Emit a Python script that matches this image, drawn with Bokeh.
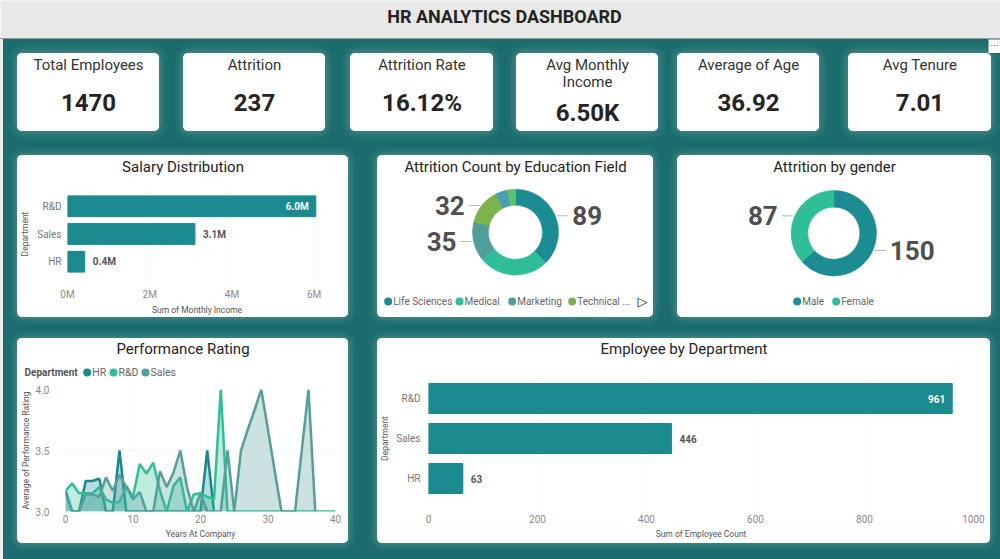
import math
from bokeh.plotting import figure
from bokeh.layouts import row, column
from bokeh.models import (Spacer, Range1d, FactorRange, ColumnDataSource,
                          FixedTicker, CustomJSTickFormatter, NumeralTickFormatter)
from bokeh.core.properties import value, field
from bokeh.embed import file_html
from bokeh.resources import INLINE

FONT = "Roboto"
PAGE_BG = "#1a6d6c"
INK = "#252423"
LABEL_GREY = "#555555"
TICK_GREY = "#8a8a8a"
BAR_COLOR = "#1c8b8f"

# ---------------- headline figures ----------------
total_employees = 1470
attrition_count = 237
avg_monthly_income = 6502.93
avg_age = 36.92
avg_tenure = 7.01

kpi_titles = ["Total Employees", "Attrition", "Attrition Rate",
              "Avg Monthly Income", "Average of Age", "Avg Tenure"]
kpi_values = [f"{total_employees}",
              f"{attrition_count}",
              f"{attrition_count / total_employees * 100:.2f}%",
              f"{avg_monthly_income / 1000:.2f}K",
              f"{avg_age:.2f}",
              f"{avg_tenure:.2f}"]

# ---------------- department totals ----------------
departments = ["R&D", "Sales", "HR"]
monthly_income = [6.04e6, 3.10e6, 0.42e6]
employee_count = [961, 446, 63]

# ---------------- attrition splits ----------------
edu_fields = ["Life Sciences", "Medical", "Marketing", "Technical Degree",
              "Other", "Human Resources"]
edu_attrition = [89, 63, 35, 32, 11, 7]
edu_labelled = [True, False, True, True, False, False]
edu_colors = ["#1b8c92", "#2fbe98", "#4f9e9b", "#7db34c", "#4a9db0", "#5cc26c"]

genders = ["Male", "Female"]
gender_attrition = [150, 87]
gender_colors = ["#1b8c92", "#2fbe98"]

# ---------------- average performance rating by tenure ----------------
perf_departments = ["HR", "R&D", "Sales"]
perf_colors = ["#178a8f", "#2ebf98", "#569f9a"]

hr_years = [0, 1, 2, 3, 4, 5, 6, 7, 8, 9, 10, 11, 12, 13, 14, 15, 16, 17, 18,
            19, 20, 21, 22]
hr_rating = [3.17, 3.0, 3.0, 3.25, 3.25, 3.27, 3.0, 3.0, 3.5, 3.0, 3.0, 3.0,
             3.0, 3.0, 3.0, 3.0, 3.0, 3.0, 3.0, 3.0, 3.0, 3.5, 3.0]

rd_years = [0, 1, 2, 3, 4, 5, 6, 7, 8, 9, 10, 11, 12, 13, 14, 15, 16, 17, 18,
            19, 20, 21, 22, 23, 24, 25, 26, 27, 28, 29, 30, 31, 32, 33, 34,
            35, 36, 37, 38, 39, 40]
rd_rating = [3.17, 3.23, 3.15, 3.15, 3.15, 3.2, 3.1, 3.07, 3.08, 3.21, 3.12,
             3.39, 3.31, 3.4, 3.17, 3.0, 3.21, 3.28, 3.0, 3.14, 3.15, 3.12,
             3.1, 4.0, 3.0, 3.0, 3.0, 3.0, 3.0, 3.0, 3.0, 3.0, 3.0, 3.0, 3.0,
             3.0, 3.0, 3.0, 3.0, 3.0, 3.0]

sales_years = [0, 1, 2, 3, 4, 5, 6, 7, 8, 9, 10, 11, 12, 13, 14, 15, 16, 17,
               18, 19, 20, 21, 22, 23, 24, 25, 26, 27, 28, 29, 30, 31, 32, 33,
               34, 36, 37]
sales_rating = [3.15, 3.0, 3.0, 3.14, 3.14, 3.12, 3.28, 3.17, 3.3, 3.2, 3.1,
                3.16, 3.0, 3.0, 3.33, 3.2, 3.32, 3.5, 3.2, 3.0, 3.15, 3.0,
                3.0, 3.0, 3.5, 3.0, 3.5, 3.67, 3.83, 4.0, 3.67, 3.33, 3.0,
                3.0, 3.0, 4.0, 3.0]

CARD_STYLE = {"border-radius": "5px", "overflow": "hidden",
              "background-color": "white",
              "box-shadow": "0 0 9px 2px rgba(255,255,255,0.22)"}


def blank(w, h, bg="white", styles=None):
    """A figure whose frame is the whole canvas, in pixel-sized units."""
    kw = {}
    if styles:
        kw["styles"] = styles
    p = figure(width=w, height=h, x_range=Range1d(0, w), y_range=Range1d(0, h),
               x_axis_type=None, y_axis_type=None, toolbar_location=None,
               output_backend="svg", min_border=0,
               background_fill_color=bg, border_fill_color=bg, **kw)
    p.outline_line_color = None
    p.grid.visible = False
    return p


def put_text(p, x, y, txt, size, color=INK, style="normal", align="center",
             font=FONT):
    p.text(x=[x], y=[y], text=[txt], text_font=value(font),
           text_font_size=f"{size}px", text_color=color,
           text_font_style=style, text_align=align, text_baseline="middle")


def stacked(head, chart):
    # the header sits in its own row so its frame is laid out independently
    return column(row(head, spacing=0), chart, spacing=0, styles=CARD_STYLE)


def style_axes(p):
    for ax in p.axis:
        ax.axis_line_color = None
        ax.major_tick_line_color = None
        ax.minor_tick_line_color = None
        ax.major_tick_out = 0
        ax.major_tick_in = 0
        ax.minor_tick_out = 0
        ax.minor_tick_in = 0
        ax.major_label_text_color = TICK_GREY
        ax.major_label_text_font = FONT
        ax.major_label_text_font_size = "10px"
        ax.axis_label_text_font = FONT
        ax.axis_label_text_font_size = "8.5px"
        ax.axis_label_text_font_style = "normal"
        ax.axis_label_text_color = LABEL_GREY


# ---------------- KPI cards ----------------
def kpi_card(w, title, val):
    p = blank(w, 78, styles=CARD_STYLE)
    if len(title) > 16:
        cut = title.rfind(" ")
        lines = [title[:cut], title[cut + 1:]]
        ys, vy = [67, 50], 19
    else:
        lines, ys, vy = [title], [67], 29
    for line, y in zip(lines, ys):
        put_text(p, w / 2, y, line, 15, color="#333333")
    put_text(p, w / 2, vy, val, 24, style="bold")
    return p


# ---------------- horizontal bar panels ----------------
def bar_panel(title, cats, vals, W, H, head_h, title_y, borders, x_end, ticks,
              tick_code, labels, xlabel, lab_size, ystand, ylab_stand,
              xstand, xlab_stand):
    left, right, top, bottom = borders
    head = blank(W, head_h)
    put_text(head, W / 2, head_h - title_y, title, 15)

    p = figure(width=W, height=H - head_h,
               y_range=FactorRange(factors=cats[::-1], range_padding=0.25,
                                   range_padding_units="absolute"),
               x_range=Range1d(0, x_end), toolbar_location=None,
               output_backend="svg", min_border_left=left,
               min_border_right=right, min_border_top=top,
               min_border_bottom=bottom)
    p.outline_line_color = None
    p.hbar(y=cats, right=vals, left=0, height=0.75, color=BAR_COLOR)

    vmax = max(vals)
    inside = [v == vmax for v in vals]
    src = ColumnDataSource(dict(
        x=vals, y=cats, text=labels,
        align=["right" if i else "left" for i in inside],
        color=["white" if i else "#555555" for i in inside],
        xoff=[-7 if i else 8 for i in inside]))
    p.text(x="x", y="y", text="text", source=src, text_align=field("align"),
           text_color=field("color"), x_offset=field("xoff"),
           text_baseline="middle", text_font=value(FONT),
           text_font_style="bold", text_font_size=f"{lab_size}px")

    p.xaxis.ticker = FixedTicker(ticks=ticks)
    if tick_code:
        p.xaxis.formatter = CustomJSTickFormatter(code=tick_code)
    p.xaxis.axis_label = xlabel
    p.yaxis.axis_label = "Department"
    style_axes(p)
    p.yaxis.major_label_text_color = "#777777"
    p.yaxis.major_label_standoff = ystand
    p.yaxis.axis_label_standoff = ylab_stand
    p.xaxis.major_label_standoff = xstand
    p.xaxis.axis_label_standoff = xlab_stand
    p.ygrid.visible = False
    p.xgrid.grid_line_color = "#e2e2e2"
    p.xgrid.grid_line_dash = "1 3"
    return stacked(head, p)


salary_panel = bar_panel(
    "Salary Distribution", departments, monthly_income, 331, 162, 24, 11,
    (50, 22, 6, 34), 6.3e6, [0, 2e6, 4e6, 6e6],
    "return (tick / 1e6).toFixed(0) + 'M';",
    [f"{v / 1e6:.1f}M" for v in monthly_income], "Sum of Monthly Income",
    10, 6, 4, 6, 2)

employee_panel = bar_panel(
    "Employee by Department", departments, employee_count, 613, 205, 24, 10,
    (50, 17, 6, 35), 1000, [0, 200, 400, 600, 800, 1000], None,
    [str(v) for v in employee_count], "Sum of Employee Count",
    10, 8, 3, 6, 3)


# ---------------- donut panels ----------------
def donut_panel(title, names, counts, colors, labelled, W, H, cx, cy,
                r_in, r_out, legend_names, legend_x, more_arrow_x=None):
    p = blank(W, H, styles=CARD_STYLE)
    put_text(p, W / 2, H - 11, title, 15)
    total = sum(counts)
    starts, ends, cum = [], [], 0
    for c in counts:
        starts.append(math.pi / 2 - 2 * math.pi * cum / total)
        cum += c
        ends.append(math.pi / 2 - 2 * math.pi * cum / total)
    src = ColumnDataSource(dict(name=names, count=counts, start=starts,
                                end=ends, color=colors))
    p.annular_wedge(x=cx, y=cy, inner_radius=r_in, outer_radius=r_out,
                    start_angle="start", end_angle="end", direction="clock",
                    fill_color=field("color"), line_color=field("color"),
                    line_width=0.5, source=src)

    x0, x1, lx, ly, txt, al = [], [], [], [], [], []
    for i, c in enumerate(counts):
        if not labelled[i]:
            continue
        mid = (starts[i] + ends[i]) / 2
        ex = cx + r_out * math.cos(mid)
        ey = cy + r_out * math.sin(mid)
        side = 1 if math.cos(mid) >= 0 else -1
        x0.append(ex + side * 2)
        x1.append(ex + side * 13)
        lx.append(ex + side * 17)
        ly.append(ey)
        txt.append(str(c))
        al.append("left" if side > 0 else "right")
    lsrc = ColumnDataSource(dict(x0=x0, x1=x1, x=lx, y=ly, text=txt, align=al))
    p.segment(x0="x0", y0="y", x1="x1", y1="y", source=lsrc,
              line_color="#b5b5b5", line_width=1)
    p.text(x="x", y="y", text="text", source=lsrc, text_align=field("align"),
           text_baseline="middle", text_font=value(FONT),
           text_font_style="bold", text_font_size="26px",
           text_color="#4f4f4f")

    ly_leg = 16
    p.scatter(x=legend_x, y=[ly_leg] * len(legend_x), size=8,
              color=colors[:len(legend_x)], line_color=None)
    for nm, x in zip(legend_names, legend_x):
        put_text(p, x + 5, ly_leg, nm, 10, color="#666666", align="left")
    if more_arrow_x is not None:
        put_text(p, more_arrow_x, ly_leg, "\u25B7", 13, color="#222222",
                 style="bold", font="DejaVu Sans")
    return p


edu_legend = edu_fields[:3] + [edu_fields[3].split()[0] + " ..."]
edu_panel = donut_panel("Attrition Count by Education Field", edu_fields,
                        edu_attrition, edu_colors, edu_labelled, 276, 162,
                        138, 85.3, 27, 43, edu_legend,
                        [10.7, 82, 134.7, 194.7], more_arrow_x=265)

gender_panel = donut_panel("Attrition by gender", genders, gender_attrition,
                           gender_colors, [True, True], 314, 162, 156.3, 84.3,
                           26, 42.7, genders, [119.7, 158.7])


# ---------------- performance rating panel ----------------
perf_head = blank(331, 42)
put_text(perf_head, 331 / 2, 32, "Performance Rating", 15)
put_text(perf_head, 7, 8, "Department", 10, color="#555555", style="bold",
         align="left")
perf_head.scatter(x=[69.7, 96, 128], y=[8, 8, 8], size=8, color=perf_colors,
                  line_color=None)
for nm, x in zip(perf_departments, [69.7, 96, 128]):
    put_text(perf_head, x + 5, 8, nm, 10.5, color="#666666", align="left")

perf = figure(width=331, height=163, x_range=Range1d(0, 40),
              y_range=Range1d(3.0, 4.0), toolbar_location=None,
              output_backend="svg", min_border_left=48, min_border_right=13,
              min_border_top=9, min_border_bottom=32)
perf.outline_line_color = None
for yrs, vals, col in zip([hr_years, rd_years, sales_years],
                          [hr_rating, rd_rating, sales_rating], perf_colors):
    perf.varea(x=yrs, y1=3.0, y2=vals, fill_color=col, fill_alpha=0.3)
    perf.line(x=yrs, y=vals, line_color=col, line_width=2.5)
perf.xaxis.ticker = FixedTicker(ticks=[0, 10, 20, 30, 40])
perf.yaxis.ticker = FixedTicker(ticks=[3.0, 3.5, 4.0])
perf.yaxis.formatter = NumeralTickFormatter(format="0.0")
perf.xaxis.axis_label = "Years At Company"
perf.yaxis.axis_label = "Average of Performance Rating"
style_axes(perf)
perf.yaxis.major_label_standoff = 16
perf.yaxis.axis_label_standoff = 2
perf.xaxis.major_label_standoff = 3
perf.xaxis.axis_label_standoff = 3
perf.xgrid.grid_line_color = "#ececec"
perf.xgrid.grid_line_dash = "1 3"
perf.ygrid.grid_line_color = "#dddddd"
perf.ygrid.grid_line_dash = "1 3"
perf_panel = stacked(perf_head, perf)


# ---------------- page layout ----------------
def place(items, height, width=997, origin=3):
    kids, cur = [], origin
    for obj, left, w in items:
        if left > cur:
            kids.append(Spacer(width=left - cur, height=height))
        kids.append(obj)
        cur = left + w
    if origin + width > cur:
        kids.append(Spacer(width=origin + width - cur, height=height))
    return row(kids, spacing=0)


# small visual-header menu button in the top-right corner
menu_btn = blank(12, 14)
put_text(menu_btn, 6, 8, "\u00B7\u00B7\u00B7", 9, color="#888888",
         style="bold")
top_row = place([(menu_btn, 988, 12)], 14)

kpi_lefts = [17, 183, 350, 516, 677, 848]
kpi_widths = [142, 142, 143, 142, 142, 143]
kpi_row = place([(kpi_card(w, t, v), l, w) for t, v, l, w in
                 zip(kpi_titles, kpi_values, kpi_lefts, kpi_widths)], 78)

mid_row = place([(salary_panel, 17, 331), (edu_panel, 377, 276),
                 (gender_panel, 677, 314)], 162)
bot_row = place([(perf_panel, 17, 331), (employee_panel, 377, 613)], 205)

body = column(top_row, kpi_row,
              Spacer(width=997, height=24), mid_row,
              Spacer(width=997, height=21), bot_row,
              Spacer(width=997, height=16),
              spacing=0, styles={"background-color": PAGE_BG})

title_bar = blank(1000, 38, bg="#e8e8e8")
put_text(title_bar, 504, 22, "HR ANALYTICS DASHBOARD", 18, style="bold")
title_rule = Spacer(width=1000, height=1, styles={"background-color": "#9a9a9a"})
left_strip = Spacer(width=3, height=520, styles={"background-color": "#ededed"})

page = column(title_bar, title_rule, row(left_strip, body, spacing=0),
              spacing=0)

open("out.html", "w").write(file_html(page, INLINE))
